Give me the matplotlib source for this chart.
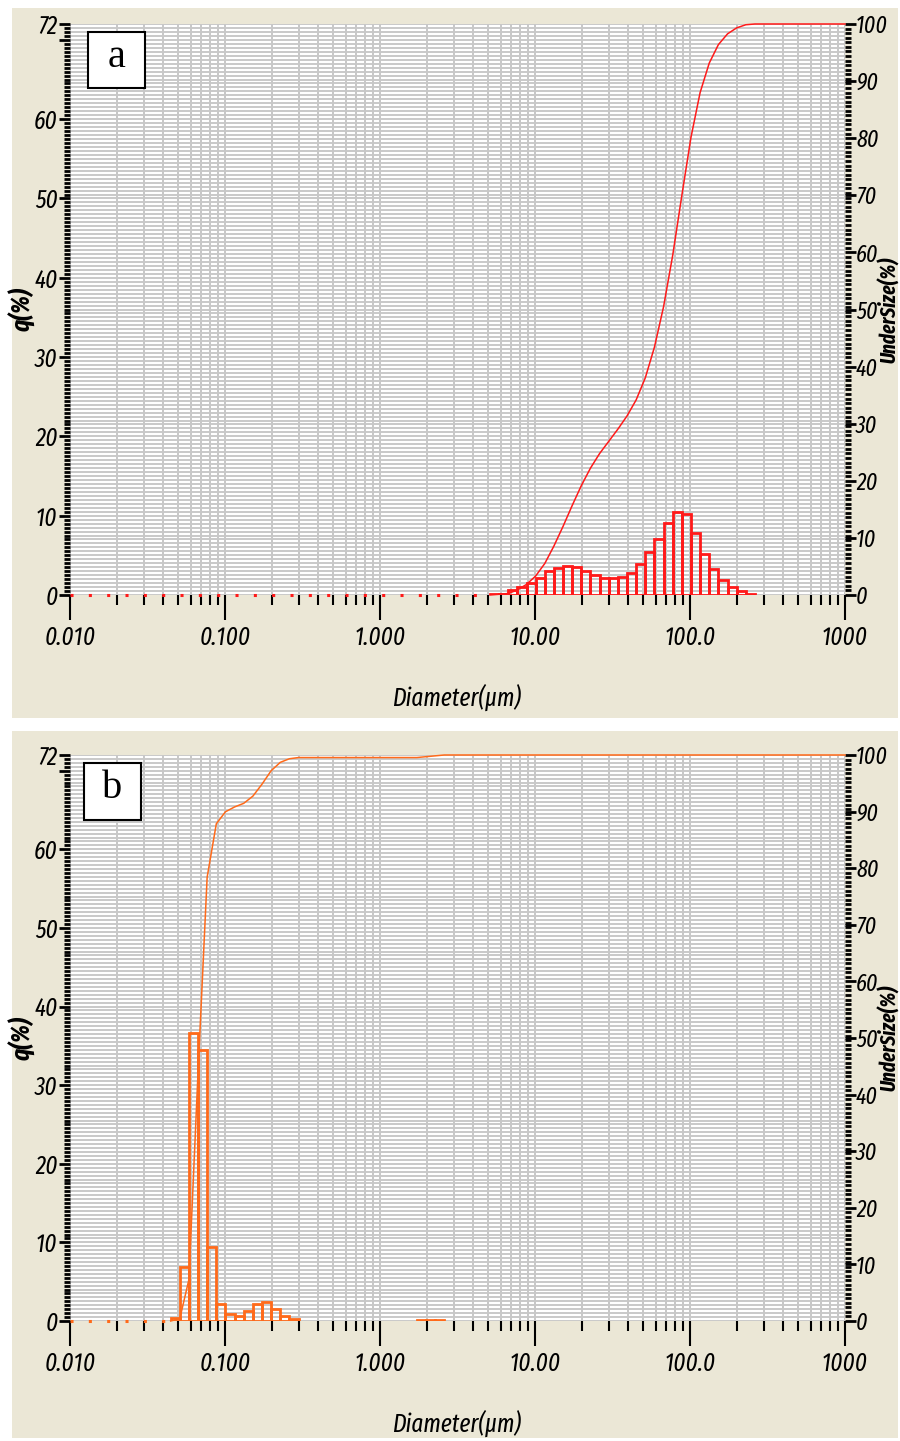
import matplotlib.pyplot as plt
import numpy as np
from matplotlib.patches import Rectangle
from matplotlib.ticker import FixedLocator, FixedFormatter, MultipleLocator, NullFormatter

# panel a : bin edges (um) and frequency q(%)
a_edges = [5.122, 5.867, 6.720, 7.697, 8.816, 10.097, 11.565, 13.246, 15.172,
           17.377, 19.904, 22.797, 26.111, 29.907, 34.255, 39.234, 44.938,
           51.471, 58.953, 67.523, 77.339, 88.583, 101.460, 116.210, 133.103,
           152.453, 174.616, 200.000, 229.075, 262.376]
a_q = [0.13, 0.13, 0.63, 0.97, 1.47, 2.2, 3.07, 3.45, 3.66, 3.49, 3.07, 2.56,
       2.14, 2.14, 2.31, 2.82, 3.87, 5.38, 7.1, 9.03, 10.5, 10.2, 7.86, 5.17,
       3.24, 1.89, 1.05, 0.55, 0.13]

# panel b : main group and the tiny group near 2 um
b_edges = [0.0446, 0.0511, 0.0585, 0.0670, 0.0767, 0.0879, 0.1007, 0.1153,
           0.1321, 0.1513, 0.1733, 0.1985, 0.2273, 0.2604, 0.2982]
b_q = [0.42, 6.9, 36.65, 34.45, 9.45, 2.12, 0.85, 0.64, 1.27, 2.12, 2.37,
       1.48, 0.64, 0.21]
b_edges2 = [1.729, 1.981, 2.269, 2.599]
b_q2 = [0.15, 0.15, 0.15]

x_major = [0.01, 0.1, 1, 10, 100, 1000]
x_labels = ["0.010", "0.100", "1.000", "10.00", "100.0", "1000"]
left_ticks = [0, 10, 20, 30, 40, 50, 60, 70, 72]
left_labels = ["0", "10", "20", "30", "40", "50", "60", "", "72"]
right_ticks = [0, 10, 20, 30, 40, 50, 60, 70, 80, 90, 100]

NARROW = ["Fira Sans Extra Condensed", "Roboto Condensed", "Archivo Narrow",
          "Liberation Sans", "DejaVu Sans"]
BEIGE = "#EBE7D6"

W, H = 900, 1441
fig = plt.figure(figsize=(W / 100, H / 100), dpi=100)
fig.patch.set_facecolor("white")


def px_rect(x0, y0, x1, y1):
    return [x0 / W, 1 - y1 / H, (x1 - x0) / W, (y1 - y0) / H]


# beige panel backgrounds
for (y0, y1) in [(8, 718), (731, 1438)]:
    r = px_rect(12, y0, 898, y1)
    fig.patches.append(Rectangle((r[0], r[1]), r[2], r[3], transform=fig.transFigure,
                                 facecolor=BEIGE, edgecolor="none", zorder=-10))


def draw_panel(y_top, y_bot, groups, color, letter, box_px):
    ax = fig.add_axes(px_rect(70, y_top, 845, y_bot))
    ax.set_facecolor("white")
    ax.set_xscale("log")
    ax.set_xlim(0.01, 1000)
    ax.set_ylim(0, 72)

    # grid
    minors = [m * 10.0 ** k for k in range(-2, 3) for m in range(2, 10)]
    for xv in minors + x_major:
        ax.axvline(xv, color="#BEBEBE", lw=1.2, zorder=1)
    for yv in np.arange(0, 72.01, 0.5):
        ax.axhline(yv, color="#C9C9C9", lw=1.4, zorder=1)

    for sp in ax.spines.values():
        sp.set_visible(False)

    # bars
    cum_x, cum_y = [], []
    total = sum(sum(q) for _, q in groups)
    run = 0.0
    for edges, q in groups:
        edges = np.array(edges)
        ax.bar(edges[:-1], q, width=np.diff(edges), align="edge", fill=False,
               edgecolor=color, lw=2, zorder=3)
        cum_x.append(edges[0])
        cum_y.append(run / total * 100)
        for e, v in zip(edges[1:], q):
            run += v
            cum_x.append(e)
            cum_y.append(run / total * 100)
    # dotted zero line before first bar
    ax.plot([0.01, groups[0][0][0]], [0, 0], color=color, lw=2.2,
            linestyle=(0, (1, 5)), zorder=3, clip_on=False)

    # x ticks
    ax.xaxis.set_major_locator(FixedLocator(x_major))
    ax.xaxis.set_major_formatter(FixedFormatter(x_labels))
    ax.xaxis.set_minor_locator(FixedLocator(minors))
    ax.xaxis.set_minor_formatter(NullFormatter())
    ax.tick_params(axis="x", which="major", direction="out", length=18, width=1.5,
                   pad=4, labelsize=18)
    ax.tick_params(axis="x", which="minor", direction="out", length=7, width=1.5)

    # left y ticks
    ax.yaxis.set_major_locator(FixedLocator(left_ticks))
    ax.yaxis.set_major_formatter(FixedFormatter(left_labels))
    ax.yaxis.set_minor_locator(MultipleLocator(0.5))
    ax.yaxis.set_minor_formatter(NullFormatter())
    ax.tick_params(axis="y", which="major", direction="out", length=8, width=2,
                   pad=1, labelsize=18)
    ax.tick_params(axis="y", which="minor", direction="out", length=4.5, width=2)
    for lab in ax.get_xticklabels() + ax.get_yticklabels():
        lab.set_family(NARROW)
        lab.set_style("italic")

    # cumulative on right axis
    ax2 = ax.twinx()
    ax2.set_ylim(0, 100)
    for sp in ax2.spines.values():
        sp.set_visible(False)
    ax2.plot(cum_x + [1000], cum_y + [100], color=color, lw=1.1, zorder=4,
             clip_on=False)
    ax2.yaxis.set_major_locator(FixedLocator(right_ticks))
    ax2.yaxis.set_minor_locator(MultipleLocator(0.8))
    ax2.yaxis.set_minor_formatter(NullFormatter())
    ax2.tick_params(axis="y", which="major", direction="out", length=8, width=2,
                    pad=0, labelsize=17)
    ax2.tick_params(axis="y", which="minor", direction="out", length=4.5, width=2)
    for lab in ax2.get_yticklabels():
        lab.set_family(NARROW)
        lab.set_style("italic")

    # axis titles
    mid = (y_top + y_bot) / 2
    fig.text(22 / W, 1 - mid / H, "q(%)", family=NARROW, style="italic",
             weight="bold", fontsize=18, rotation=90, ha="center", va="center")
    fig.text(889 / W, 1 - mid / H, "UnderSize(%)", family=NARROW,
             style="italic", weight="bold", fontsize=15, rotation=90,
             ha="center", va="center")
    fig.text(457 / W, 1 - (y_bot + 102) / H, "Diameter(µm)", family=NARROW,
             style="italic", fontsize=18, ha="center", va="center")

    # letter box
    bx0, by0, bx1, by1 = box_px
    r = px_rect(bx0, by0, bx1, by1)
    fig.patches.append(Rectangle((r[0], r[1]), r[2], r[3], transform=fig.transFigure,
                                 facecolor="white", edgecolor="black", lw=1.5, zorder=10))
    fig.text(r[0] + r[2] / 2, r[1] + r[3] / 2 + 0.002, letter, family="Liberation Serif",
             fontsize=29, ha="center", va="center", zorder=11)
    return ax


draw_panel(24, 595, [(a_edges, a_q)], "#FF1A1A", "a", (88, 32, 145, 88))
draw_panel(755, 1321, [(b_edges, b_q), (b_edges2, b_q2)], "#FF6A1A", "b",
           (84, 763, 141, 820))

fig.savefig("out.png", dpi=100, facecolor=fig.get_facecolor())
